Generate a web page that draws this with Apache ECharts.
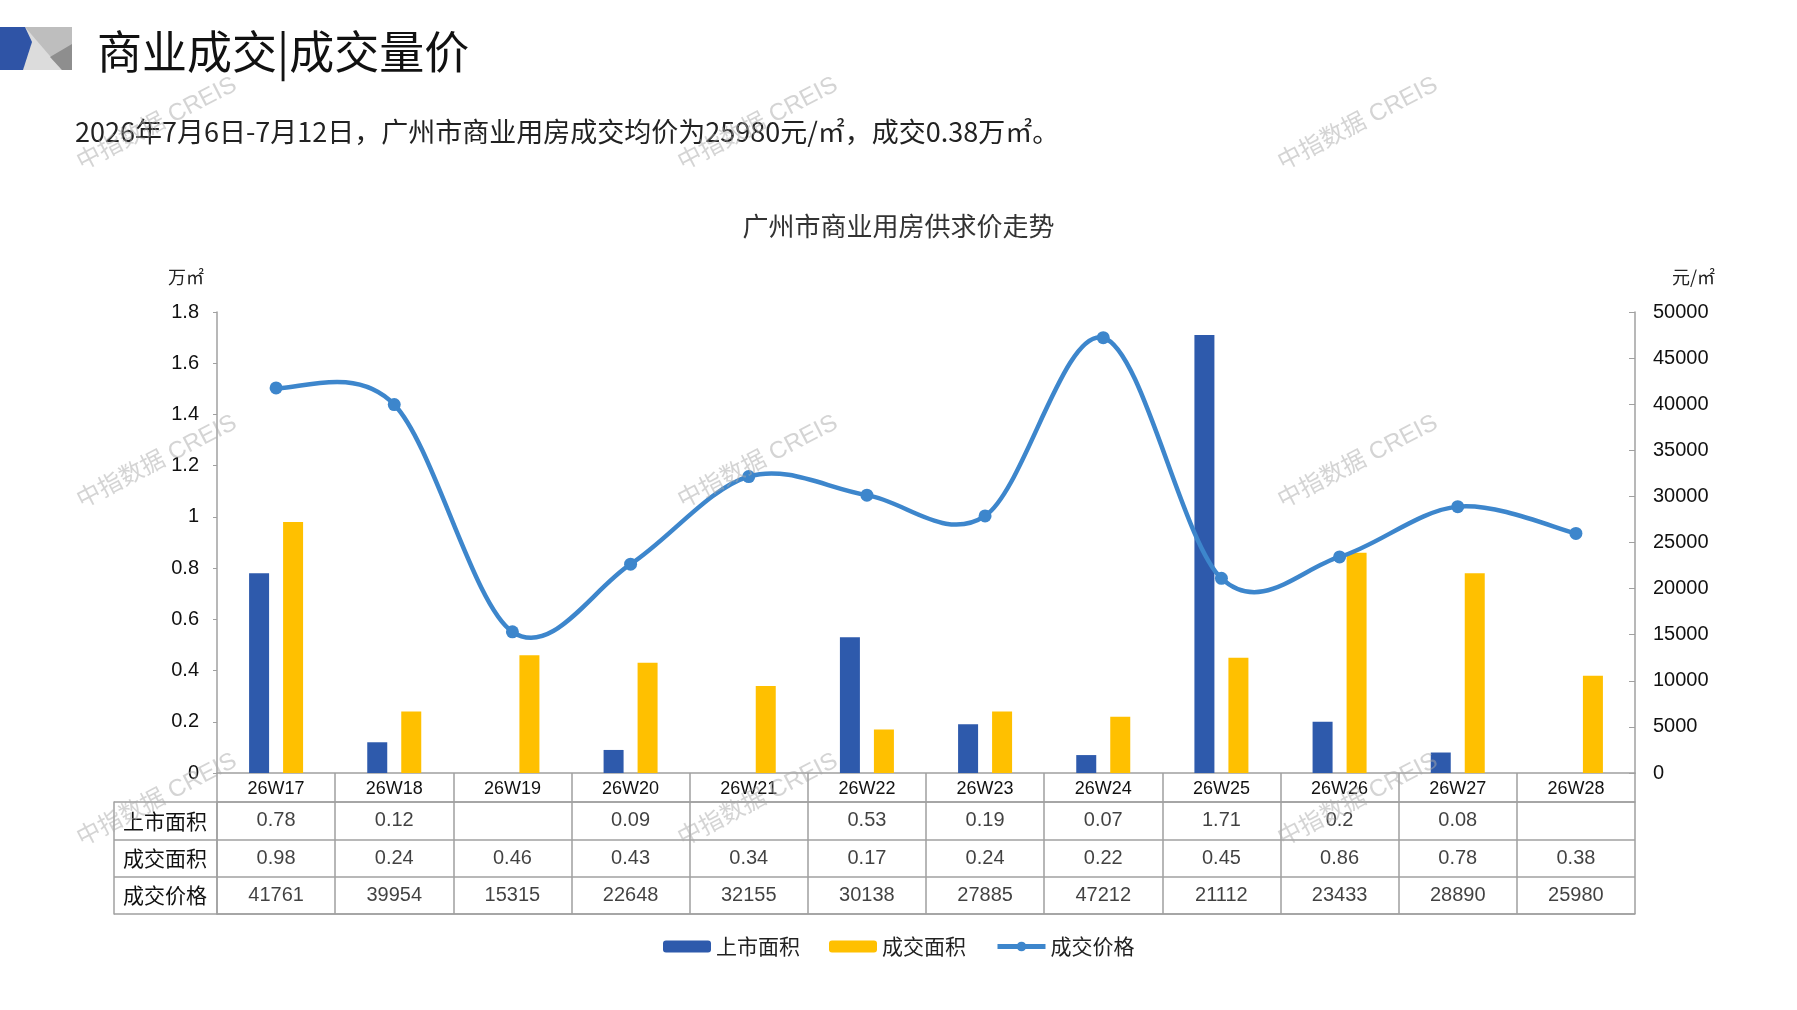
<!DOCTYPE html>
<html><head><meta charset="utf-8">
<script src="https://cdn.jsdelivr.net/npm/echarts@6/dist/echarts.min.js"></script>
<style>html,body{margin:0;padding:0;background:#fff}#c{width:1797px;height:1010px}</style>
</head><body><div id="c"></div>
<script>
const categories = ['26W17','26W18','26W19','26W20','26W21','26W22','26W23','26W24','26W25','26W26','26W27','26W28'];
const listedArea = [0.78, 0.12, null, 0.09, null, 0.53, 0.19, 0.07, 1.71, 0.2, 0.08, null];
const dealArea = [0.98, 0.24, 0.46, 0.43, 0.34, 0.17, 0.24, 0.22, 0.45, 0.86, 0.78, 0.38];
const dealPrice = [41761, 39954, 15315, 22648, 32155, 30138, 27885, 47212, 21112, 23433, 28890, 25980];
const rowNames = ['上市面积', '成交面积', '成交价格'];
const leftAxisRange = [0, 1.8, 0.2];
const rightAxisRange = [0, 50000, 5000];

const CJK = 'Noto Sans CJK SC';
const NUM = 'Liberation Sans, Noto Sans CJK SC';
const GRAY = '#A0A0A0';
const LINE_COLOR = '#3D86CC';

const cells = [];
[listedArea, dealArea, dealPrice].forEach((arr, r) => {
  arr.forEach((v, i) => { if (v !== null && v !== undefined) cells.push([i, r, String(v)]); });
});

const watermarks = [];
[157, 758, 1358].forEach(x => [124, 462, 800].forEach(y => {
  watermarks.push({
    type: 'text', x: x, y: y, rotation: 0.48, z: 100, silent: true,
    style: { text: '中指数据 CREIS', x: 0, y: 0, align: 'center', verticalAlign: 'middle',
      fill: 'rgba(170,170,170,0.5)', font: '24px ' + NUM }
  });
}));

// Catmull-Rom style smoothing (like spreadsheet smoothed lines), built from axis coordinates
function smoothPath(pts) {
  let d = 'M' + pts[0][0] + ' ' + pts[0][1];
  const n = pts.length;
  for (let i = 0; i < n - 1; i++) {
    const p0 = pts[i === 0 ? 0 : i - 1];
    const p1 = pts[i];
    const p2 = pts[i + 1];
    const p3 = pts[i + 2 < n ? i + 2 : n - 1];
    const c1x = p1[0] + (p2[0] - p0[0]) / 6;
    const c1y = p1[1] + (p2[1] - p0[1]) / 6;
    const c2x = p2[0] - (p3[0] - p1[0]) / 6;
    const c2y = p2[1] - (p3[1] - p1[1]) / 6;
    d += ' C' + c1x + ' ' + c1y + ' ' + c2x + ' ' + c2y + ' ' + p2[0] + ' ' + p2[1];
  }
  return d;
}

const chart = echarts.init(document.getElementById('c'));
chart.setOption({
  backgroundColor: '#fff',
  animation: false,
  title: [
    { text: '商业成交|成交量价', left: 92, top: 24, textStyle: { fontFamily: CJK, fontSize: 45, fontWeight: 'normal', color: '#111' } },
    { text: '2026年7月6日-7月12日，广州市商业用房成交均价为25980元/㎡，成交0.38万㎡。', left: 70, top: 113, textStyle: { fontFamily: CJK, fontSize: 27, fontWeight: 'normal', color: '#222' } },
    { text: '广州市商业用房供求价走势', left: 'center', top: 208, textStyle: { fontFamily: CJK, fontSize: 26, fontWeight: 'normal', color: '#333' } },
    { text: '万㎡', left: 163, top: 263, textStyle: { fontFamily: CJK, fontSize: 18, fontWeight: 'normal', color: '#222' } },
    { text: '元/㎡', left: 1667, top: 263, textStyle: { fontFamily: CJK, fontSize: 18, fontWeight: 'normal', color: '#222' } }
  ],
  graphic: [
    { type: 'rect', shape: { x: 0, y: 27, width: 72, height: 43 }, style: { fill: '#BEBEBE' } },
    { type: 'polygon', shape: { points: [[25, 27], [62, 70], [22, 70]] }, style: { fill: '#DCDCDC' } },
    { type: 'polygon', shape: { points: [[72, 44], [50, 57], [62, 70], [72, 70]] }, style: { fill: '#8E8E8E' } },
    { type: 'polygon', shape: { points: [[0, 27], [25, 27], [32, 42], [23, 70], [0, 70]] }, style: { fill: '#2F54A6' } }
  ].concat(watermarks),
  legend: {
    data: ['上市面积', '成交面积',
      { name: '成交价格', lineStyle: { width: 5, opacity: 1, color: LINE_COLOR }, itemStyle: { color: LINE_COLOR } }],
    left: 658, top: 931, itemWidth: 48, itemHeight: 12, itemGap: 29,
    textStyle: { fontFamily: CJK, fontSize: 21, color: '#222' }
  },
  grid: [
    { left: 217, right: 162, top: 312, bottom: 237 },
    { left: 217, right: 162, top: 802, bottom: 96 }
  ],
  xAxis: [
    { type: 'category', gridIndex: 0, data: categories, boundaryGap: true,
      axisLine: { lineStyle: { color: GRAY, width: 1.5 } },
      axisTick: { show: true, interval: 0, length: 141, lineStyle: { color: GRAY, width: 1.5 } },
      axisLabel: { interval: 0, margin: 7, fontFamily: NUM, fontSize: 18, color: '#111' } },
    { type: 'category', gridIndex: 1, data: categories, position: 'bottom',
      axisLine: { show: true, lineStyle: { color: GRAY, width: 1.5 } },
      axisTick: { show: false }, axisLabel: { show: false } },
    { type: 'category', gridIndex: 1, data: categories, position: 'top',
      axisLine: { show: true, lineStyle: { color: GRAY, width: 1.5 } },
      axisTick: { show: false }, axisLabel: { show: false } }
  ],
  yAxis: [
    { type: 'value', gridIndex: 0, position: 'left', min: leftAxisRange[0], max: leftAxisRange[1], interval: leftAxisRange[2],
      axisLine: { show: true, lineStyle: { color: GRAY, width: 1.5 } },
      axisTick: { show: true, length: 4, lineStyle: { color: GRAY } },
      splitLine: { show: false },
      axisLabel: { margin: 18, fontFamily: NUM, fontSize: 20, color: '#111' } },
    { type: 'value', gridIndex: 0, position: 'right', min: rightAxisRange[0], max: rightAxisRange[1], interval: rightAxisRange[2],
      axisLine: { show: true, lineStyle: { color: GRAY, width: 1.5 } },
      axisTick: { show: true, inside: true, length: 6, lineStyle: { color: GRAY } },
      splitLine: { show: false },
      axisLabel: { margin: 18, fontFamily: NUM, fontSize: 20, color: '#111', formatter: v => String(v) } },
    { type: 'category', gridIndex: 1, data: rowNames, inverse: true, position: 'left',
      axisLine: { show: true, lineStyle: { color: GRAY, width: 1.5 } },
      axisTick: { show: true, interval: 0, length: 103, lineStyle: { color: GRAY, width: 1.5 } },
      splitLine: { show: true, interval: 0, lineStyle: { color: GRAY, width: 1.5 } },
      axisLabel: { interval: 0, margin: 52, align: 'center', fontFamily: CJK, fontSize: 21, color: '#111' } },
    { type: 'category', gridIndex: 1, data: rowNames, inverse: true, position: 'left', offset: 103,
      axisLine: { show: true, lineStyle: { color: GRAY, width: 1.5 } },
      axisTick: { show: false }, axisLabel: { show: false }, splitLine: { show: false } }
  ],
  series: [
    { name: '上市面积', type: 'bar', xAxisIndex: 0, yAxisIndex: 0, data: listedArea,
      barWidth: 20, barGap: '70%', itemStyle: { color: '#2E5AAC' } },
    { name: '成交面积', type: 'bar', xAxisIndex: 0, yAxisIndex: 0, data: dealArea,
      barWidth: 20, barGap: '70%', itemStyle: { color: '#FFC000' } },
    { name: '成交价格', type: 'line', xAxisIndex: 0, yAxisIndex: 1, data: dealPrice,
      symbol: 'circle', symbolSize: 13, z: 6,
      lineStyle: { color: LINE_COLOR, width: 0, opacity: 0 }, itemStyle: { color: LINE_COLOR } },
    { name: '成交价格曲线', type: 'custom', xAxisIndex: 0, yAxisIndex: 1, z: 5, silent: true,
      data: dealPrice.map((v, i) => [i, v]),
      renderItem: function (params, api) {
        if (params.dataIndex !== 0) return null;
        const pts = dealPrice.map((v, i) => api.coord([i, v]));
        return { type: 'path', shape: { pathData: smoothPath(pts) },
          style: { fill: 'none', stroke: LINE_COLOR, lineWidth: 4.5 } };
      } },
    { name: 'table', type: 'scatter', xAxisIndex: 1, yAxisIndex: 2, data: cells,
      symbolSize: 1, itemStyle: { color: 'rgba(0,0,0,0)' }, silent: true,
      label: { show: true, position: 'inside', formatter: p => p.value[2],
        fontFamily: NUM, fontSize: 20, color: '#111' } }
  ]
});
</script></body></html>
